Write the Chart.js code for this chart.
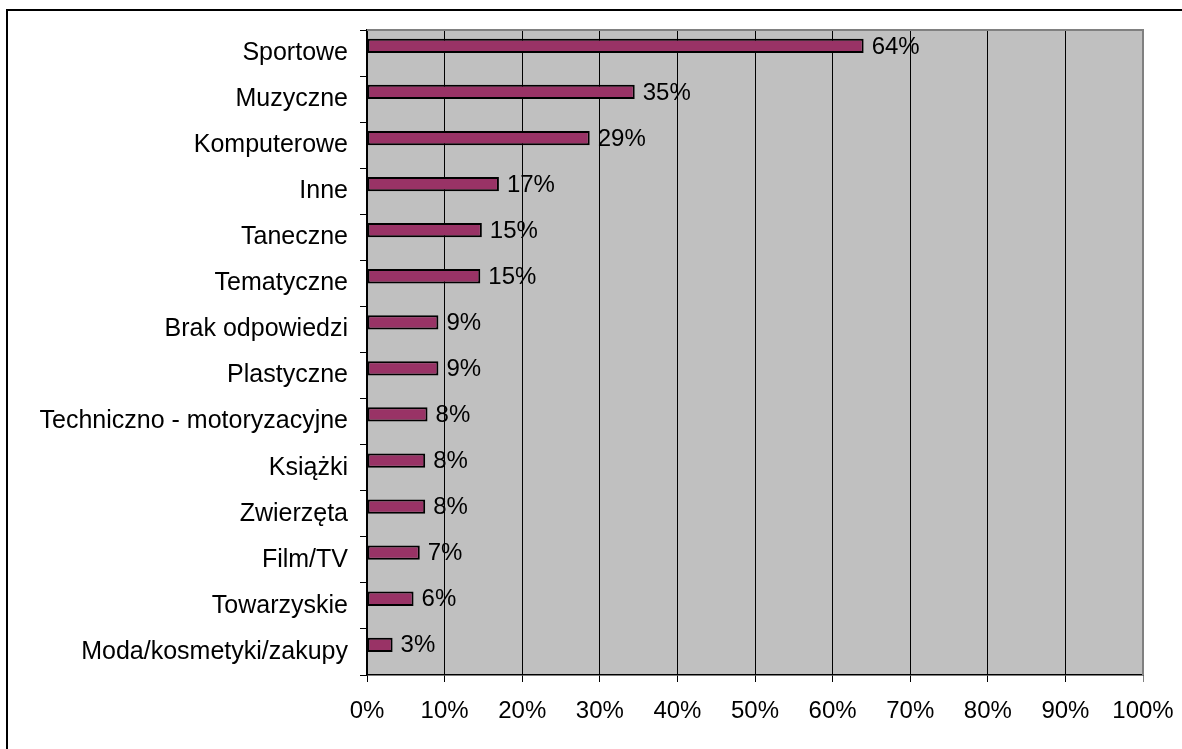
<!DOCTYPE html>
<html>
<head>
<meta charset="utf-8">
<script src="https://cdn.jsdelivr.net/npm/chart.js@4/dist/chart.umd.min.js"></script>
<style>
  html, body { margin: 0; padding: 0; background: #fff; }
  #wrap { width: 1182px; height: 749px; }
</style>
</head>
<body>
<div id="wrap"><canvas id="chart" width="1182" height="749"></canvas></div>
<script>
const categories = [
    'Sportowe', 'Muzyczne', 'Komputerowe', 'Inne', 'Taneczne', 'Tematyczne',
    'Brak odpowiedzi', 'Plastyczne', 'Techniczno - motoryzacyjne', 'Książki',
    'Zwierzęta', 'Film/TV', 'Towarzyskie', 'Moda/kosmetyki/zakupy'
];
const shares = [64.0, 34.5, 28.7, 17.0, 14.8, 14.6, 9.2, 9.2, 7.8, 7.5, 7.5, 6.8, 6.0, 3.3];
// empty second series, as in the original sheet, pushes the bars to the upper half of each row
const spacer = categories.map(() => null);
const xTicks = [0, 10, 20, 30, 40, 50, 60, 70, 80, 90, 100];

Chart.defaults.font.family = '"Liberation Sans", Arial, sans-serif';
Chart.defaults.font.size = 24;
Chart.defaults.color = '#000';

// gray plot area, frame and outer border
const frame = {
    id: 'frame',
    beforeDraw(chart) {
        const { ctx, chartArea: a } = chart;
        ctx.save();
        ctx.fillStyle = '#fff';
        ctx.fillRect(0, 0, chart.width, chart.height);
        ctx.fillStyle = '#C0C0C0';
        ctx.fillRect(a.left, a.top, a.right - a.left, a.bottom - a.top);
        ctx.strokeStyle = '#000';
        ctx.lineWidth = 2;
        ctx.strokeRect(7, 10, chart.width + 20, chart.height + 20);
        ctx.restore();
    },
    afterDraw(chart) {
        const { ctx, chartArea: a } = chart;
        ctx.save();
        ctx.strokeStyle = '#808080';
        ctx.lineWidth = 2;
        ctx.beginPath();
        ctx.moveTo(a.left, a.top);
        ctx.lineTo(a.right, a.top);
        ctx.lineTo(a.right, a.bottom);
        ctx.stroke();
        ctx.restore();
    }
};

// value labels right of each bar
const valueLabels = {
    id: 'valueLabels',
    afterDatasetsDraw(chart) {
        const { ctx } = chart;
        const meta = chart.getDatasetMeta(0);
        ctx.save();
        ctx.font = '24px "Liberation Sans", Arial, sans-serif';
        ctx.fillStyle = '#000';
        ctx.textAlign = 'left';
        ctx.textBaseline = 'middle';
        meta.data.forEach((bar, i) => {
            ctx.fillText(Math.round(shares[i]) + '%', bar.x + 8, bar.y + 1);
        });
        ctx.restore();
    }
};

new Chart(document.getElementById('chart'), {
    type: 'bar',
    data: {
        labels: categories,
        datasets: [{
            label: 'Zainteresowania',
            data: shares,
            backgroundColor: '#993366',
            borderColor: '#000',
            borderWidth: 2,
            borderSkipped: false,
            categoryPercentage: 0.62,
            barPercentage: 1.0
        }, {
            label: '',
            data: spacer,
            categoryPercentage: 0.62,
            barPercentage: 1.0
        }]
    },
    options: {
        indexAxis: 'y',
        responsive: false,
        animation: false,
        layout: { padding: { top: 30, right: 39, left: 0, bottom: 0 } },
        plugins: { legend: { display: false }, tooltip: { enabled: false } },
        scales: {
            x: {
                min: 0,
                max: 100,
                afterBuildTicks: scale => { scale.ticks = xTicks.map(v => ({ value: v })); },
                afterFit: scale => {
                    scale.height = 74;
                    scale.paddingLeft = 0;
                    scale.paddingRight = 0;
                },
                grid: {
                    color: ctx => ctx.index === 10 ? '#808080' : '#000',
                    lineWidth: 1,
                    tickLength: 7
                },
                border: { color: '#000', width: 1.5 },
                ticks: {
                    padding: 15,
                    color: '#000',
                    callback: v => v + '%'
                }
            },
            y: {
                afterFit: scale => { scale.width = 367; },
                grid: {
                    drawOnChartArea: false,
                    color: '#000',
                    tickLength: 7
                },
                border: { color: '#000', width: 1.5 },
                ticks: { padding: 12, color: '#000', font: { size: 25 } }
            }
        }
    },
    plugins: [frame, valueLabels]
});
</script>
</body>
</html>
